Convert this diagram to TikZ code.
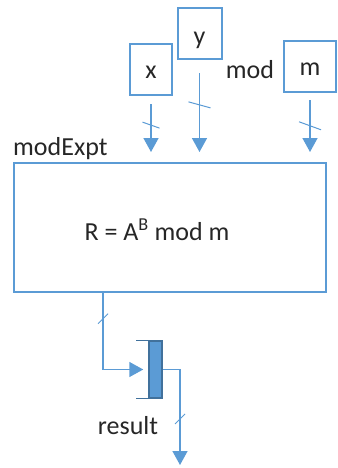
\documentclass[tikz,border=0pt]{standalone}
\usepackage{xcolor}
\usepackage{fontspec}
\setmainfont{Carlito}
\usepackage{tikz}
\usetikzlibrary{arrows.meta, positioning, calc}
\definecolor{boxblue}{HTML}{5B9BD5}
\definecolor{regedge}{HTML}{41719C}
\definecolor{ink}{HTML}{262626}
\newcommand\diafont{\fontsize{26}{30}\selectfont}

\begin{document}
\begin{tikzpicture}[x=1pt, y=-1pt,
  inbox/.style={draw=boxblue, line width=2pt, minimum height=51pt, minimum width=#1,
              font=\diafont, text=ink, text height=18pt, text depth=0pt, inner sep=0pt},
  core/.style={draw=boxblue, line width=2pt, minimum width=312pt, minimum height=129pt},
  reg/.style={draw=regedge, line width=1.5pt, fill=boxblue, minimum width=13pt,
              minimum height=57pt, inner sep=0pt},
  lbl/.style={font=\diafont, text=ink, inner sep=0pt},
  feed/.style={-{Triangle[length=14pt, width=15pt]}, line width=1.5pt, boxblue},
  tick/.style={line width=1pt, boxblue},
]
  \useasboundingbox (0,0) rectangle (337,468);

  \node[inbox=42pt] (xin) at (151,70) {x};
  \node[inbox=44pt, text height=23pt] (yin) at (199.5,33.5) {y};
  \node[inbox=52pt] (min) at (310,66.5) {m};
  \node[lbl, anchor=base] (modword) at (250,79) {mod};

  \node[core] (box) at (170,227.5) {};
  \node[lbl, anchor=base west] (title) at (13,155) {modExpt};
  \node[lbl, anchor=base] (formula) at (157,240) {R = A\textsuperscript{B} mod m};

  \node[reg] (flop) at (155.5,369.5) {};
  \node[lbl, anchor=base] (result) at (128,434) {result};
  \coordinate (out) at (180,465);

  \draw[feed, shorten <=8pt, shorten >=10pt] (xin.south) -- coordinate[pos=.437] (xt) (xin.south |- box.north);
  \draw[feed, shorten <=13.5pt, shorten >=10pt] (yin.south) -- coordinate[pos=.44] (yt) (yin.south |- box.north);
  \draw[feed, shorten <=7.5pt, shorten >=10pt] (min.south) -- coordinate[pos=.475] (mt) (min.south |- box.north);
  \draw[tick] (xt) ++(-8.5,-3) -- ++(17,6);
  \draw[tick] (yt) ++(-11,-3) -- ++(22,6);
  \draw[tick] (mt) ++(-11,-4) -- ++(22,8);

  \draw[feed, shorten >=5pt] ([xshift=90pt]box.south west) |- coordinate[pos=.168] (bt) (flop.west);
  \draw[tick] (bt) ++(-5,5) -- ++(10,-10);
  \draw[line width=1pt, regedge] (flop.north west) -- ++(-12,0);
  \draw[line width=1pt, regedge] (flop.south west) -- ++(-12,0);

  \draw[feed] (flop.east) -| coordinate[pos=.759] (ot) (out);
  \draw[tick] (ot) ++(-5,5) -- ++(10,-10);
\end{tikzpicture}
\end{document}
